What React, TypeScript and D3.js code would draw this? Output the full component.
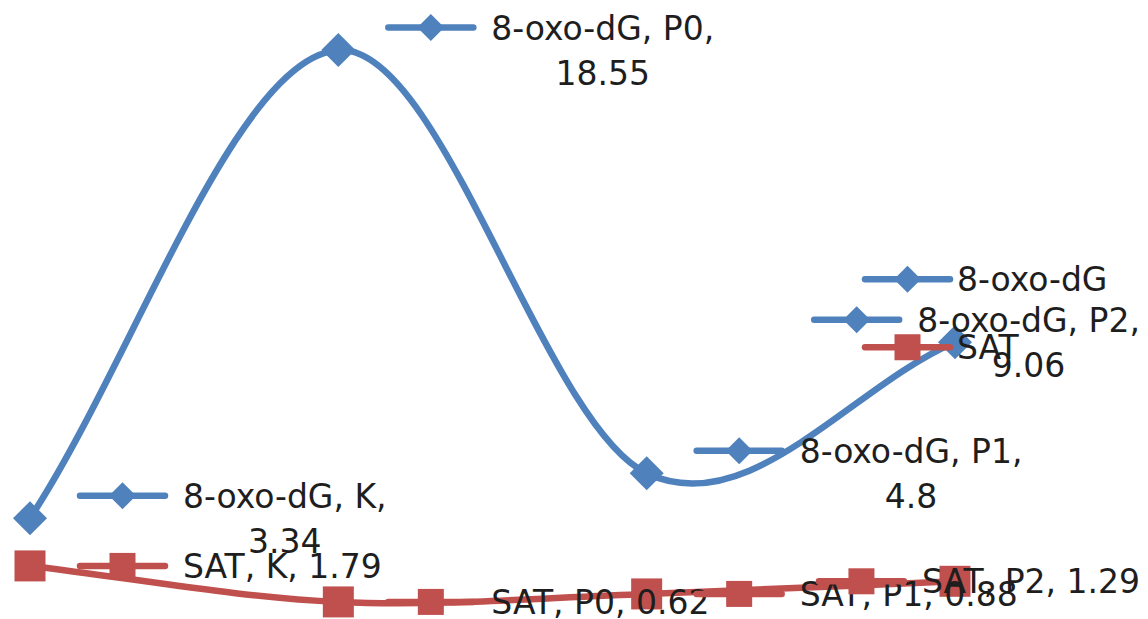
import React, { useEffect, useRef } from 'react';
import * as d3 from 'd3';

const categories = ['K', 'P0', 'P1', 'P2'];
const oxoValues = [3.34, 18.55, 4.8, 9.06];
const satValues = [1.79, 0.62, 0.88, 1.29];
const seriesNames = ['8-oxo-dG', 'SAT'];
const seriesColors = ['#4F81BD', '#C0504D'];
const seriesMarkers = ['diamond', 'square'];

const W = 1148;
const H = 619;
const FONT = "'DejaVu Sans', sans-serif";
const FS = 33;
const LINE_H = 45;
const TEXT_COLOR = '#1e1e1e';

type Pt = [number, number];

// Excel-like smoothing: interior tangents (P[i+1]-P[i-1])/6, end tangents 1/3 toward neighbour
function smoothPath(pts: Pt[]) {
  const p = d3.path();
  const n = pts.length;
  p.moveTo(pts[0][0], pts[0][1]);
  for (let i = 0; i < n - 1; i++) {
    const a = pts[i];
    const b = pts[i + 1];
    let c1: Pt;
    let c2: Pt;
    if (i === 0) c1 = [a[0] + (b[0] - a[0]) / 3, a[1] + (b[1] - a[1]) / 3];
    else {
      const prev = pts[i - 1];
      c1 = [a[0] + (b[0] - prev[0]) / 6, a[1] + (b[1] - prev[1]) / 6];
    }
    if (i + 1 === n - 1) c2 = [b[0] - (b[0] - a[0]) / 3, b[1] - (b[1] - a[1]) / 3];
    else {
      const next = pts[i + 2];
      c2 = [b[0] - (next[0] - a[0]) / 6, b[1] - (next[1] - a[1]) / 6];
    }
    p.bezierCurveTo(c1[0], c1[1], c2[0], c2[1], b[0], b[1]);
  }
  return p.toString();
}

function drawMarker(g: any, type: string, cx: number, cy: number, big: boolean, color: string) {
  if (type === 'diamond') {
    const h = big ? 17 : 13.5;
    g.append('path')
      .attr('d', `M${cx},${cy - h}L${cx + h},${cy}L${cx},${cy + h}L${cx - h},${cy}Z`)
      .attr('fill', color);
  } else {
    const s = big ? 31 : 26;
    g.append('rect')
      .attr('x', cx - s / 2)
      .attr('y', cy - s / 2)
      .attr('width', s)
      .attr('height', s)
      .attr('fill', color);
  }
}

export default function App() {
  const ref = useRef<SVGSVGElement>(null);

  useEffect(() => {
    const svg = d3.select(ref.current);
    svg.selectAll('*').remove();

    const x = d3.scalePoint<string>().domain(categories).range([30, 955]);
    const y = d3.scaleLinear().domain([0, 20]).range([621, 5.5]);

    const series = seriesNames.map((name, i) => ({
      name,
      values: i === 0 ? oxoValues : satValues,
      color: seriesColors[i],
      marker: seriesMarkers[i],
    }));

    const gLines = svg.append('g');
    series.forEach((s) => {
      const pts: Pt[] = s.values.map((v, j) => [x(categories[j]) as number, y(v)]);
      gLines
        .append('path')
        .attr('d', smoothPath(pts))
        .attr('fill', 'none')
        .attr('stroke', s.color)
        .attr('stroke-width', 6.5)
        .attr('stroke-linecap', 'round');
      pts.forEach((p) => drawMarker(gLines, s.marker, p[0], p[1], true, s.color));
    });

    // data labels with legend keys
    const RIGHT_LIMIT = 1140;
    const KEY_W = 85;
    const TEXT_OFF = 103;
    const gLab = svg.append('g');
    series.forEach((s) => {
      s.values.forEach((v, j) => {
        const px = x(categories[j]) as number;
        const py = y(v);
        const full = `${s.name}, ${categories[j]}, ${v}`;
        const g = gLab.append('g');
        const probe = g.append('text').attr('font-family', FONT).attr('font-size', FS).text(full);
        let lines = [full];
        if ((probe.node() as SVGTextElement).getComputedTextLength() > 280) {
          lines = [`${s.name}, ${categories[j]},`, `${v}`];
        }
        probe.remove();
        const keyG = g.append('g');
        const texts = lines.map((l) =>
          g
            .append('text')
            .attr('font-family', FONT)
            .attr('font-size', FS)
            .attr('fill', TEXT_COLOR)
            .attr('text-anchor', 'middle')
            .text(l)
        );
        const widths = texts.map((t) => (t.node() as SVGTextElement).getComputedTextLength());
        const maxW = Math.max(...widths);
        let left = px + 50;
        const total = TEXT_OFF + maxW;
        if (left + total > RIGHT_LIMIT) left = RIGHT_LIMIT - total;
        const cy0 = py - ((lines.length - 1) * LINE_H) / 2;
        const tcx = left + TEXT_OFF + maxW / 2;
        texts.forEach((t, k) => t.attr('x', tcx).attr('y', cy0 + k * LINE_H + 12));
        keyG
          .append('line')
          .attr('x1', left)
          .attr('x2', left + KEY_W)
          .attr('y1', cy0)
          .attr('y2', cy0)
          .attr('stroke', s.color)
          .attr('stroke-width', 6.5)
          .attr('stroke-linecap', 'round');
        drawMarker(keyG, s.marker, left + KEY_W / 2, cy0, false, s.color);
      });
    });

    // legend
    const gLeg = svg.append('g');
    const legMid = (y(0) + y(20)) / 2;
    const legGap = 68;
    series.forEach((s, i) => {
      const cy = legMid + (i - (series.length - 1) / 2) * legGap;
      const kx = 865;
      gLeg
        .append('line')
        .attr('x1', kx)
        .attr('x2', kx + KEY_W)
        .attr('y1', cy)
        .attr('y2', cy)
        .attr('stroke', s.color)
        .attr('stroke-width', 6.5)
        .attr('stroke-linecap', 'round');
      drawMarker(gLeg, s.marker, kx + KEY_W / 2, cy, false, s.color);
      gLeg
        .append('text')
        .attr('x', kx + KEY_W + 7)
        .attr('y', cy + 12)
        .attr('font-family', FONT)
        .attr('font-size', FS)
        .attr('fill', TEXT_COLOR)
        .text(s.name);
    });
  }, []);

  return (
    <svg
      ref={ref}
      width={W}
      height={H}
      style={{ position: 'absolute', left: 0, top: 0, background: '#fff', display: 'block' }}
    />
  );
}
